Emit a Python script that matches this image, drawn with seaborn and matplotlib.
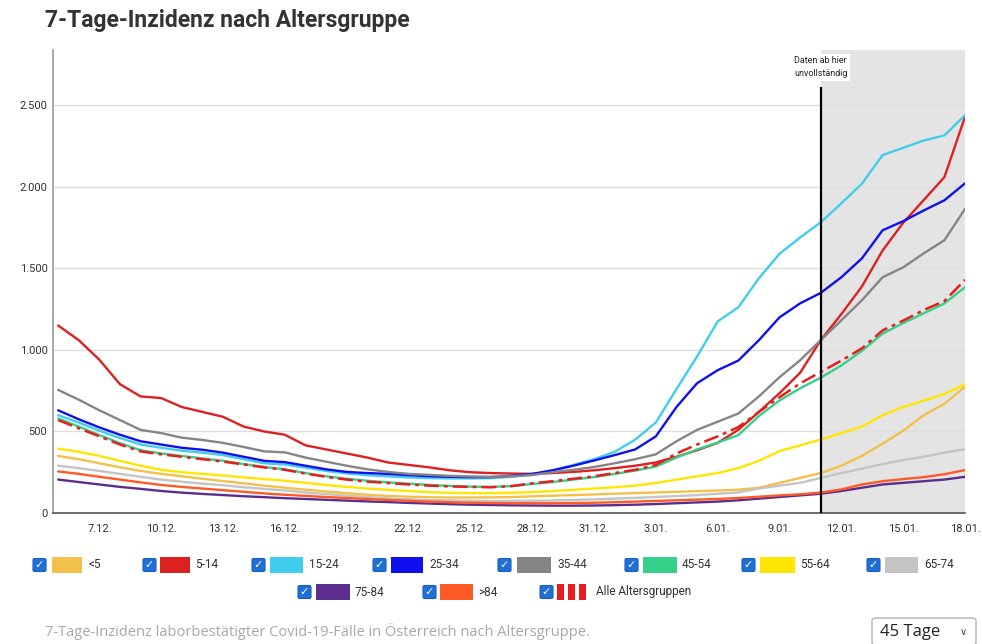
import numpy as np
import pandas as pd
import matplotlib
matplotlib.use("Agg")
import matplotlib.pyplot as plt
from matplotlib.patches import Rectangle, FancyBboxPatch
import seaborn as sns

# ---------------- data ----------------
start_date = "2021-12-05"
n_days = 45
cutoff_index = 37          # 11.01. -> data incomplete from here
line_top_value = 2610

groups = ["<5", "5-14", "15-24", "25-34", "35-44", "45-54", "55-64", "65-74", "75-84", ">84", "Alle Altersgruppen"]
colors = ["#f2c14a", "#dd2020", "#40cdee", "#1010ee", "#858585", "#35d08a", "#ffe600", "#c4c4c4", "#5b2d8f", "#ff5a26", "#e81e1e"]

lt5 = [350,330,305,280,258,240,225,210,196,182,168,155,143,132,122,112,105,100,97,95,95,96,98,102,106,110,114,118,122,126,130,134,138,143,155,185,215,245,290,350,425,505,600,670,775]
a5_14 = [1150,1060,940,790,715,705,650,620,590,530,500,480,415,390,365,340,310,295,280,262,250,245,242,240,245,252,262,275,290,310,345,385,430,510,620,735,860,1060,1220,1390,1610,1780,1920,2060,2430]
a15_24 = [600,555,505,460,420,400,382,370,355,330,305,298,278,258,243,232,225,218,214,212,212,214,222,235,262,295,330,375,450,555,760,960,1175,1262,1440,1590,1690,1783,1900,2020,2195,2240,2285,2316,2440]
a25_34 = [630,575,525,480,440,420,400,388,370,345,320,312,290,268,252,245,240,232,226,222,220,220,228,240,262,290,322,355,390,470,650,796,876,935,1060,1200,1286,1350,1446,1562,1734,1790,1856,1918,2022]
a35_44 = [755,695,630,570,510,490,462,448,430,405,378,372,340,315,290,268,252,240,234,228,224,222,225,233,250,265,282,305,330,360,440,510,560,610,715,833,937,1060,1182,1305,1446,1507,1593,1673,1865]
a45_54 = [580,530,478,428,385,365,350,335,320,300,282,268,245,225,210,198,188,180,172,166,162,160,165,178,190,205,220,240,260,285,340,390,432,478,595,690,765,830,905,995,1100,1165,1225,1285,1385]
a55_64 = [395,375,350,320,290,265,250,240,230,218,208,198,185,172,160,150,142,135,128,124,122,122,124,128,135,142,150,158,168,184,205,225,245,275,320,380,415,450,490,530,600,650,690,730,790]
a65_74 = [290,275,258,240,222,205,192,180,170,158,148,138,126,116,106,98,90,84,80,77,75,74,74,75,77,80,84,88,93,98,104,110,118,126,150,168,185,215,245,272,300,325,345,370,392]
a75_84 = [205,190,175,160,148,135,125,117,110,103,97,91,86,81,76,71,67,62,58,54,51,49,47,46,45,45,46,48,51,55,60,65,70,78,88,98,108,118,135,155,175,185,195,205,222]
a84 = [255,240,222,205,188,172,160,150,140,130,120,112,105,98,92,86,80,75,70,66,63,61,60,60,60,61,63,66,70,74,78,82,86,92,100,108,115,125,145,175,195,208,220,238,263]
alle = [570,520,470,420,378,360,345,330,315,298,280,265,242,222,205,192,184,175,168,163,160,158,165,182,195,210,225,245,265,295,365,420,470,527,620,710,795,865,935,1010,1120,1180,1245,1300,1430]

series = [lt5, a5_14, a15_24, a25_34, a35_44, a45_54, a55_64, a65_74, a75_84, a84, alle]

y_ticks = [0, 500, 1000, 1500, 2000, 2500]
y_tick_labels = ["0", "500", "1.000", "1.500", "2.000", "2.500"]

dates = pd.date_range(start_date, periods=n_days, freq="D")
date_labels = [f"{d.day}.{d.month:02d}." for d in dates]
x_tick_idx = list(range(2, n_days, 3))

# ---------------- style ----------------
sns.set_style("white")
narrow = ["Roboto", "DejaVu Sans"]
plt.rcParams["font.family"] = narrow

W, H = 982, 644
fig = plt.figure(figsize=(W / 100, H / 100), dpi=100)
fig.patch.set_facecolor("white")

def fx(px):
    return px / W

def fy(py):
    return 1 - py / H

ax = fig.add_axes([fx(53), fy(513), fx(965) - fx(53), fy(50) - fy(513)])

ax.axvspan(cutoff_index, n_days - 1, color="#e4e4e4", zorder=0, lw=0)

x = np.arange(n_days)
for name, col, vals in zip(groups, colors, series):
    if name == "Alle Altersgruppen":
        sns.lineplot(x=x, y=vals, ax=ax, color=col, lw=1.8, linestyle=(0, (6, 2, 1.5, 2)), zorder=4)
    else:
        sns.lineplot(x=x, y=vals, ax=ax, color=col, lw=1.7, zorder=3)

ax.vlines(cutoff_index, 0, line_top_value, color="black", lw=1.6, zorder=5)
ax.text(cutoff_index, 2735, "Daten ab hier\nunvollständig", ha="center", va="center",
        fontsize=6.5, color="#222222", linespacing=1.5,
        bbox=dict(facecolor="white", edgecolor="none", pad=2), zorder=6)

ax.set_xlim(-0.25, n_days - 1)
ax.set_ylim(0, 2840)
ax.set_yticks(y_ticks)
ax.set_yticklabels(y_tick_labels, fontsize=8, color="#333333")
ax.set_xticks(x_tick_idx)
ax.set_xticklabels([date_labels[i] for i in x_tick_idx], fontsize=8, color="#333333")
ax.tick_params(axis="both", length=0)
ax.tick_params(axis="y", pad=4)
ax.tick_params(axis="x", pad=8)
ax.yaxis.grid(True, color="#dedede", lw=1)
ax.set_axisbelow(True)
for s in ["top", "right"]:
    ax.spines[s].set_visible(False)
ax.spines["left"].set_color("#9a9a9a")
ax.spines["left"].set_linewidth(1.2)
ax.spines["bottom"].set_color("#555555")
ax.spines["bottom"].set_linewidth(1.2)
ax.set_xlabel("")
ax.set_ylabel("")

# title
fig.text(fx(45), fy(21), "7-Tage-Inzidenz nach Altersgruppe", fontsize=16.5, fontweight="bold",
         color="#333333", va="center", ha="left", family=["Roboto", "DejaVu Sans"])

# ---------------- legend (checkbox style) ----------------
legend_pos = [  # (checkbox_x, swatch_x0, swatch_x1, label_x, row_y)
    (33, 52, 82, 89, 565), (143, 160, 190, 195, 565), (252, 270, 303, 309, 565),
    (373, 391, 423, 429, 565), (498, 517, 551, 557, 565), (625, 643, 677, 682, 565),
    (742, 760, 795, 800, 565), (867, 885, 918, 924, 565),
    (298, 316, 350, 355, 592), (423, 440, 473, 478, 592), (540, 557, 590, 596, 592),
]
for (cbx, s0, s1, lx, ry), name, col in zip(legend_pos, groups, colors):
    cb = FancyBboxPatch((fx(cbx), fy(ry + 6.5)), 13 / W, 13 / H,
                        boxstyle="round,pad=0,rounding_size=0.002",
                        transform=fig.transFigure, fc="#1f6fd6", ec="#1a5fc0", lw=0.8)
    fig.add_artist(cb)
    fig.text(fx(cbx + 6.5), fy(ry), "✓", fontsize=8, color="white", ha="center", va="center",
             fontweight="bold", family=["DejaVu Sans"])
    if name == "Alle Altersgruppen":
        seg = (s1 - s0) / 3.0
        for k in range(3):
            fig.add_artist(Rectangle((fx(s0 + k * seg), fy(ry + 8)), (seg - 4) / W, 16 / H,
                                     transform=fig.transFigure, fc=col, ec="none"))
    else:
        fig.add_artist(Rectangle((fx(s0), fy(ry + 8)), (s1 - s0) / W, 16 / H,
                                 transform=fig.transFigure, fc=col, ec="none"))
    fig.text(fx(lx), fy(ry), name, fontsize=8.5, color="#333333", ha="left", va="center")

# caption
fig.text(fx(45), fy(631), "7-Tage-Inzidenz laborbestätigter Covid-19-Fälle in Österreich nach Altersgruppe.",
         fontsize=10.5, color="#a8a8a8", ha="left", va="center", family=["Open Sans", "DejaVu Sans"])

# dropdown
dd = FancyBboxPatch((fx(872), fy(645)), 104 / W, 27 / H, boxstyle="round,pad=0,rounding_size=0.004",
                    transform=fig.transFigure, fc="white", ec="#b0b0b0", lw=1)
fig.add_artist(dd)
fig.text(fx(880), fy(632), "45 Tage", fontsize=12, color="#222222", ha="left", va="center",
         family=["Open Sans", "DejaVu Sans"])
fig.text(fx(963), fy(632), "∨", fontsize=7, color="#444444", ha="center", va="center",
         family=["DejaVu Sans"])

fig.savefig("out.png", dpi=100)
